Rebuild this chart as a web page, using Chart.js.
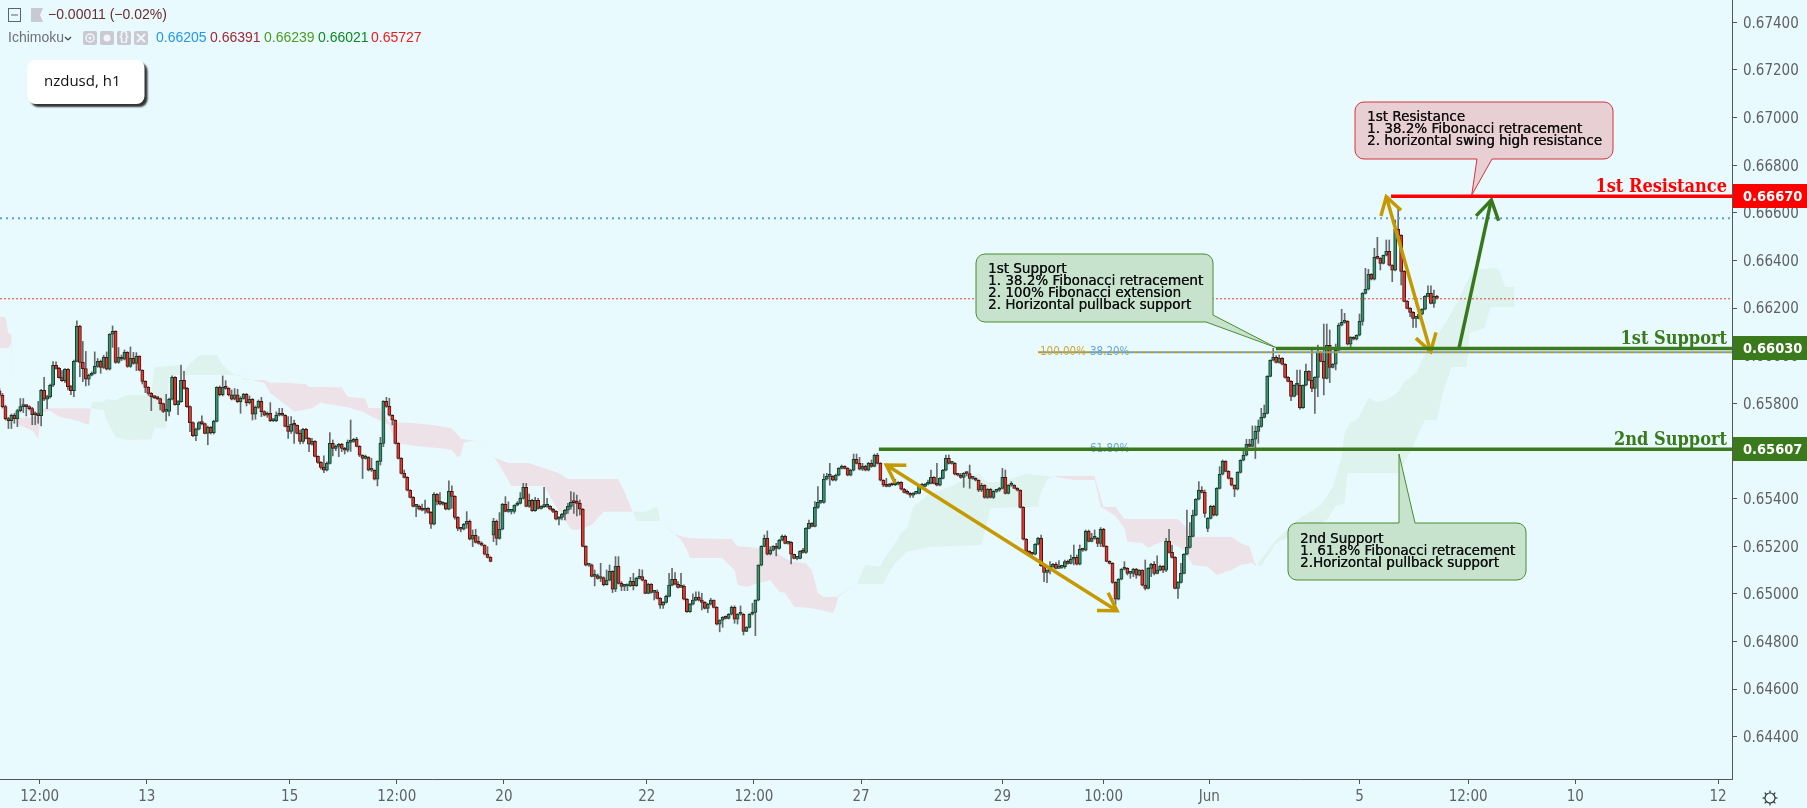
<!DOCTYPE html>
<html><head><meta charset="utf-8">
<style>html,body{margin:0;padding:0;background:#e9faff;overflow:hidden}canvas{display:block}</style>
<script src="https://cdn.jsdelivr.net/npm/chart.js@4"></script>
</head><body><canvas id="c" width="1807" height="808"></canvas>
<script>
// prices in 1e-5 units (hourly NZDUSD candles)
const opens=[65852,65834,65786,65736,65727,65750,65736,65769,65786,65790,
65786,65778,65752,65757,65748,65855,65817,65828,65876,65960,
65947,65908,65895,65943,65870,65853,65976,66123,65972,65946,
65901,65918,65926,65955,65976,65951,65993,65943,66090,66102,
65972,65993,65985,66014,65955,65989,65968,65997,65939,65892,
65867,65842,65828,65824,65820,65799,65766,65766,65817,65909,
65794,65807,65897,65863,65786,65719,65664,65691,65719,65715,
65673,65699,65677,65724,65867,65836,65867,65863,65836,65817,
65836,65807,65821,65838,65803,65817,65754,65783,65808,65765,
65750,65758,65727,65727,65750,65758,65750,65703,65682,65712,
65708,65674,65640,65691,65653,65628,65640,65577,65552,65531,
65519,65548,65632,65611,65619,65628,65611,65603,65636,65640,
65649,65619,65582,65569,65573,65519,65519,65481,65556,65632,
65808,65787,65750,65729,65632,65569,65506,65489,65435,65405,
65367,65367,65355,65351,65359,65342,65292,65418,65388,65376,
65380,65355,65430,65409,65321,65275,65271,65292,65304,65229,
65246,65216,65212,65204,65166,65153,65246,65304,65232,65271,
65376,65346,65346,65346,65372,65380,65401,65447,65367,65393,
65349,65393,65359,65366,65367,65367,65355,65346,65313,65321,
65334,65351,65367,65384,65383,65380,65355,65199,65120,65122,
65073,65076,65064,65068,65038,65057,65094,65019,65115,65044,
65031,65033,65033,65052,65034,65065,65072,65057,65002,65040,
65006,65008,64981,64952,64964,64989,65036,65061,65040,65027,
65031,64977,64925,64956,64973,64985,64973,64964,64939,64956,
64973,64943,64872,64889,64901,64897,64914,64943,64893,64914,
64914,64842,64859,64914,64922,64973,65120,65199,65233,65166,
65183,65199,65190,65225,65241,65212,65216,65166,65149,65149,
65178,65174,65275,65296,65283,65363,65384,65384,65481,65493,
65493,65477,65498,65527,65535,65527,65498,65519,65565,65548,
65523,65535,65519,65548,65535,65582,65548,65477,65456,65451,
65460,65458,65460,65468,65439,65426,65422,65414,65422,65422,
65451,65451,65460,65464,65489,65464,65456,65485,65519,65569,
65548,65548,65502,65498,65489,65506,65505,65485,65485,65477,
65435,65456,65405,65439,65405,65430,65435,65443,65489,65422,
65456,65456,65443,65435,65363,65229,65178,65170,65166,65208,
65233,65118,65090,65099,65115,65124,65107,65111,65114,65135,
65128,65145,65153,65124,65187,65183,65262,65220,65233,65233,
65212,65271,65199,65136,65128,65048,64977,65061,65103,65107,
65086,65086,65103,65078,65099,65036,65023,65107,65124,65086,
65099,65115,65099,65220,65174,65153,65023,65048,65086,65166,
65195,65241,65330,65397,65435,65426,65275,65317,65367,65330,
65443,65502,65556,65514,65485,65456,65439,65510,65561,65582,
65628,65619,65649,65682,65703,65741,65758,65913,65981,65993,
65972,65989,65964,65909,65892,65829,65876,65876,65782,65876,
65934,65897,65863,65909,66014,65976,65905,66044,65951,65964,
66023,66128,66140,66144,66048,66077,66069,66086,66144,66262,
66279,66342,66321,66413,66409,66388,66422,66438,66380,66359,
66531,66506,66354,66228,66199,66182,66157,66157,66174,66195,
66249,66262,66220,66249];
const closes=[65834,65786,65736,65727,65750,65736,65769,65786,65790,65786,
65778,65752,65757,65748,65855,65817,65828,65876,65960,65947,
65908,65895,65943,65870,65853,65976,66123,65972,65946,65901,
65918,65926,65955,65976,65951,65993,65943,66090,66102,65972,
65993,65985,66014,65955,65989,65968,65997,65939,65892,65867,
65842,65828,65824,65820,65799,65766,65766,65817,65909,65794,
65807,65897,65863,65786,65719,65664,65691,65719,65715,65673,
65699,65677,65724,65867,65836,65867,65863,65836,65817,65836,
65807,65821,65838,65803,65817,65754,65783,65808,65765,65750,
65758,65727,65727,65750,65758,65750,65703,65682,65712,65708,
65674,65640,65691,65653,65628,65640,65577,65552,65531,65519,
65548,65632,65611,65619,65628,65611,65603,65636,65640,65649,
65619,65582,65569,65573,65519,65519,65481,65556,65632,65808,
65787,65750,65729,65632,65569,65506,65489,65435,65405,65367,
65367,65355,65351,65359,65342,65292,65418,65388,65376,65380,
65355,65430,65409,65321,65275,65271,65292,65304,65229,65246,
65216,65212,65204,65166,65153,65136,65304,65232,65271,65376,
65346,65346,65346,65372,65380,65401,65447,65367,65393,65349,
65393,65359,65366,65367,65367,65355,65346,65313,65321,65334,
65351,65367,65384,65383,65380,65355,65199,65120,65122,65073,
65076,65064,65068,65038,65057,65094,65019,65115,65044,65031,
65033,65033,65052,65034,65065,65072,65057,65002,65040,65006,
65008,64981,64952,64964,64989,65036,65061,65040,65027,65031,
64977,64925,64956,64973,64985,64973,64964,64939,64956,64973,
64943,64872,64889,64901,64897,64914,64943,64893,64914,64914,
64842,64859,64914,64922,64973,65120,65199,65233,65166,65183,
65199,65190,65225,65241,65212,65216,65166,65149,65149,65178,
65174,65275,65296,65283,65363,65384,65384,65481,65493,65493,
65477,65498,65527,65535,65527,65498,65519,65565,65548,65523,
65535,65519,65548,65535,65582,65548,65477,65456,65451,65460,
65458,65460,65468,65439,65426,65422,65414,65422,65422,65451,
65451,65460,65464,65489,65464,65456,65485,65519,65569,65548,
65548,65502,65498,65489,65506,65505,65485,65485,65477,65435,
65456,65405,65439,65405,65430,65435,65443,65489,65422,65456,
65456,65443,65435,65363,65229,65178,65170,65166,65208,65233,
65118,65090,65099,65115,65124,65107,65111,65114,65135,65128,
65145,65153,65124,65187,65183,65262,65220,65233,65233,65212,
65271,65199,65136,65128,65048,64977,65061,65103,65107,65086,
65086,65103,65078,65099,65036,65023,65107,65124,65086,65099,
65115,65099,65220,65174,65153,65023,65048,65086,65166,65195,
65241,65330,65397,65435,65426,65338,65317,65367,65330,65443,
65502,65556,65514,65485,65456,65439,65510,65561,65582,65628,
65619,65649,65682,65703,65741,65758,65913,65981,65993,65972,
65989,65964,65909,65892,65829,65876,65876,65782,65876,65934,
65897,65863,65909,66014,65976,65905,66044,65951,65964,66023,
66128,66140,66144,66048,66077,66069,66086,66144,66262,66279,
66342,66321,66413,66409,66388,66422,66438,66380,66359,66531,
66506,66354,66228,66199,66182,66157,66157,66174,66195,66249,
66262,66220,66249,66241];
const highs=[65862,65842,65792,65741,65755,65758,65775,65820,65820,65794,
65790,65783,65764,65808,65859,65909,65834,65881,65975,65974,
65951,65937,65946,65946,65876,65982,66146,66128,66060,66018,
65923,65932,66016,65988,65982,66002,66016,66093,66125,66105,
66034,66003,66024,66017,66037,66014,66013,66000,65941,65895,
65870,65845,65831,65827,65822,65801,65838,65822,65915,65912,
65811,65961,65934,65867,65789,65722,65696,65723,65747,65717,
65705,65703,65729,65870,65873,65915,65895,65866,65856,65862,
65859,65828,65842,65842,65831,65820,65789,65814,65825,65769,
65764,65803,65733,65764,65779,65779,65752,65744,65744,65730,
65710,65688,65695,65695,65656,65653,65643,65579,65555,65579,
65554,65677,65646,65625,65632,65632,65615,65646,65730,65653,
65657,65622,65584,65583,65576,65569,65521,65559,65657,65811,
65825,65821,65752,65731,65635,65572,65520,65492,65437,65408,
65373,65373,65377,65394,65362,65345,65425,65421,65425,65386,
65383,65474,65453,65412,65324,65279,65296,65345,65310,65268,
65271,65240,65218,65206,65198,65156,65317,65310,65341,65380,
65408,65386,65355,65374,65387,65425,65464,65464,65419,65397,
65405,65401,65369,65447,65401,65370,65359,65349,65324,65338,
65355,65380,65429,65425,65415,65394,65358,65202,65125,65125,
65100,65083,65128,65071,65100,65121,65097,65156,65156,65051,
65037,65037,65069,65086,65069,65103,65100,65059,65044,65043,
65012,65016,64984,64967,64994,65086,65107,65089,65051,65086,
65038,64980,64960,65000,65008,65008,65002,64967,64960,64981,
64974,64946,64891,64904,64907,64917,64949,64949,64917,64949,
64917,64862,64917,64960,64975,65122,65202,65247,65264,65198,
65202,65212,65229,65247,65247,65219,65219,65167,65153,65181,
65191,65278,65310,65299,65387,65450,65387,65503,65506,65548,
65496,65503,65530,65541,65538,65530,65523,65587,65587,65573,
65548,65540,65552,65562,65587,65590,65551,65479,65485,65464,
65464,65481,65471,65471,65443,65436,65425,65425,65425,65454,
65464,65464,65478,65520,65492,65548,65488,65523,65583,65583,
65551,65551,65506,65506,65509,65512,65541,65492,65488,65479,
65464,65458,65442,65442,65433,65439,65447,65527,65520,65458,
65471,65458,65446,65437,65366,65232,65181,65174,65211,65237,
65247,65121,65101,65135,65128,65131,65139,65118,65142,65142,
65163,65205,65163,65205,65191,65268,65268,65254,65268,65237,
65278,65275,65202,65139,65131,65051,65064,65106,65135,65110,
65089,65107,65107,65101,65101,65142,65110,65128,65135,65159,
65121,65118,65233,65271,65205,65156,65051,65128,65169,65352,
65299,65352,65400,65471,65450,65436,65320,65372,65372,65446,
65534,65562,65559,65517,65488,65458,65513,65563,65604,65649,
65649,65705,65705,65730,65779,65793,65916,65983,66031,66000,
66003,65992,65967,65912,65895,65878,65940,65940,65878,65965,
65937,66024,65912,66045,66017,66133,66133,66108,65967,66049,
66136,66195,66178,66147,66080,66080,66088,66175,66265,66367,
66363,66345,66451,66497,66412,66423,66486,66486,66382,66570,
66626,66508,66357,66231,66202,66185,66160,66177,66198,66252,
66293,66293,66276,66254];
const lows=[65825,65780,65730,65694,65694,65716,65702,65764,65761,65747,
65772,65710,65710,65716,65705,65811,65778,65822,65870,65943,
65906,65892,65887,65856,65836,65828,65974,65912,65891,65873,
65876,65915,65923,65951,65926,65946,65940,65940,66035,65968,
65968,65979,65982,65951,65951,65964,65937,65936,65881,65845,
65834,65769,65820,65815,65772,65761,65726,65747,65814,65792,
65752,65804,65859,65783,65681,65660,65643,65688,65709,65671,
65626,65671,65671,65722,65831,65831,65859,65831,65814,65814,
65803,65758,65817,65789,65797,65730,65733,65779,65744,65747,
65741,65723,65723,65723,65747,65747,65701,65652,65674,65632,
65671,65629,65632,65650,65597,65624,65575,65548,65523,65509,
65516,65545,65579,65601,65576,65597,65587,65596,65598,65636,
65617,65576,65484,65565,65516,65514,65478,65453,65541,65618,
65783,65747,65709,65629,65566,65503,65486,65432,65402,65365,
65324,65352,65348,65338,65339,65275,65289,65373,65373,65372,
65352,65352,65359,65313,65265,65260,65268,65275,65226,65198,
65213,65208,65201,65163,65150,65134,65219,65205,65229,65268,
65344,65342,65335,65338,65369,65377,65398,65365,65363,65346,
65346,65355,65355,65362,65363,65352,65341,65310,65289,65310,
65310,65338,65355,65338,65327,65331,65197,65117,65115,65071,
65033,65061,65051,65033,65036,65054,65005,65009,65041,65013,
65013,65013,65030,65016,65031,65062,65054,65000,65000,65002,
64974,64978,64938,64938,64961,64987,65033,65037,65024,65027,
64974,64922,64922,64953,64970,64970,64932,64936,64921,64953,
64940,64869,64840,64859,64894,64894,64911,64876,64873,64910,
64827,64841,64856,64911,64824,64970,65117,65197,65163,65163,
65180,65159,65187,65222,65209,65208,65125,65146,65142,65146,
65171,65170,65272,65281,65281,65359,65380,65381,65478,65456,
65474,65474,65495,65524,65524,65495,65495,65516,65545,65520,
65517,65516,65516,65531,65533,65545,65474,65450,65449,65449,
65454,65454,65457,65436,65423,65418,65405,65405,65418,65419,
65447,65449,65457,65461,65461,65453,65453,65482,65516,65545,
65544,65499,65495,65485,65447,65495,65443,65481,65474,65429,
65429,65401,65400,65402,65400,65426,65430,65440,65419,65419,
65451,65443,65432,65360,65226,65176,65156,65162,65163,65205,
65115,65051,65047,65083,65111,65104,65107,65107,65107,65124,
65125,65121,65121,65121,65178,65180,65218,65218,65229,65198,
65198,65197,65134,65125,65044,64953,64974,65058,65100,65079,
65065,65072,65065,65075,65033,65016,65020,65072,65079,65083,
65096,65089,65093,65171,65150,65020,64981,65045,65083,65163,
65192,65239,65327,65394,65423,65321,65261,65314,65327,65327,
65440,65499,65512,65482,65453,65408,65436,65507,65558,65579,
65617,65617,65568,65632,65699,65738,65755,65911,65978,65969,
65969,65961,65906,65890,65811,65827,65835,65775,65779,65873,
65894,65849,65758,65828,65974,65835,65902,65887,65948,65940,
66020,66125,66136,66045,66027,66066,66066,66083,66128,66259,
66276,66318,66318,66406,66360,66385,66419,66377,66311,66356,
66503,66297,66226,66196,66164,66119,66119,66154,66171,66192,
66247,66217,66203,66238];
// Ichimoku cloud edges: bar number and price (1e-5) of each bend
const spanABars=[0,3,4,5,6,8,11,13,14,15,17,20,24,27,30,31,35,36,39,43,51,52,60,62,66,68,73,75,78,81,82,89,91,94,97,99,102,105,108,110,117,122,125,129,131,133,142,148,152,154,155,156,158,163,165,169,172,183,187,192,194,199,203,213,217,221,222,223,229,231,232,243,244,247,248,251,259,262,264,267,272,276,280,281,282,288,291,296,297,301,303,305,307,312,319,329,332,336,345,355,361,368,370,375,378,379,384,386,388,392,398,401,406,409,414,417,421,422,429,436,444,448,451,452,454,456,458,460,463,466,470,472,476,478,485,489,495,502,504,506,509];
const spanAVals=[66032,66032,66053,65772,65709,65702,65685,65653,65759,65765,65769,65744,65733,65723,65709,65807,65807,65818,65814,65835,65835,65951,65961,65940,65990,66003,66003,65961,65926,65915,65906,65885,65842,65814,65786,65765,65772,65779,65803,65797,65783,65765,65744,65723,65709,65632,65618,65611,65604,65572,65583,65633,65642,65640,65596,65520,65453,65453,65365,65272,65268,65289,65344,65344,65344,65365,65306,65297,65226,65184,65150,65150,65134,65100,65037,65029,65058,65008,65003,64945,64940,64932,64919,64945,64995,65041,65121,65113,65142,65213,65255,65276,65365,65415,65449,65507,65470,65470,65503,65491,65478,65478,65365,65327,65276,65218,65213,65192,65205,65226,65184,65121,65113,65079,65100,65121,65129,65117,65226,65310,65373,65449,65575,65675,65722,65730,65772,65822,65806,65814,65848,65890,65927,65982,66121,66205,66360,66368,66360,66289,66289];
const spanBBars=[0,2,3,4,5,6,13,14,30,35,36,39,43,51,52,56,57,77,81,82,89,91,95,103,104,115,117,123,124,128,131,140,146,152,155,158,163,165,166,171,178,183,188,191,208,210,213,214,222,223,226,229,232,246,248,259,266,271,273,275,277,282,288,297,299,301,305,313,330,333,349,350,352,355,368,370,371,375,378,396,399,402,414,417,420,422,424,429,446,449,452,453,470,474,477,479,483,485,488,493,494,499,501,509];
const spanBVals=[66164,66164,66095,66091,65772,65738,65744,65779,65779,65772,65730,65660,65646,65649,65695,65695,65919,65919,65919,65898,65898,65887,65887,65881,65870,65867,65828,65821,65780,65780,65723,65716,65709,65695,65653,65646,65638,65596,65575,65549,65549,65528,65507,65482,65482,65428,65339,65306,65306,65297,65255,65243,65234,65230,65201,65188,65134,65129,65100,65003,64987,64987,65041,65041,65092,65129,65176,65197,65205,65360,65365,65428,65478,65495,65495,65407,65365,65365,65314,65314,65276,65239,65239,65213,65201,65125,65117,65213,65310,65369,65381,65507,65507,65591,65675,65730,65730,65843,65953,65953,66095,66116,66205,66205];
const yTickValues=[0.644,0.646,0.648,0.65,0.652,0.654,0.656,0.658,0.66,0.662,0.664,0.666,0.668,0.67,0.672,0.674];
const xTickBars=[13.5,49.5,97.5,133.5,169.5,217.5,253.5,289.5,337,371,406.5,457,493.5,529.5,577.5];
const xTickLabels=['12:00','13','15','12:00','20','22','12:00','27','29','10:00','Jun','5','12:00','10','12'];
// levels and drawings, in chart units (bar number, price)
const resistance1=0.6667, support1=0.6603, support2=0.65607, lastPrice=0.66239, dottedHigh=0.66577, fibLevel=0.66014, fib618=0.65607;
const arrowA=[[298,0.65541],[375.5,0.64929]];
const arrowB=[[466,0.66668],[480.9,0.66017]];
const arrowUp=[[490.4,0.6603],[501.3,0.66654]];

const P=v=>v/1e5;
const GOLD='#c49a00',GREEN='#3a7a1c',RED='#ff0000';
const wicks=closes.map((_,i)=>({x:i,y:[P(lows[i]),P(highs[i])]}));
const bodies=closes.map((c,i)=>({x:i,y:[P(opens[i]),P(c)]}));
const isUp=ctx=>closes[ctx.dataIndex]>=opens[ctx.dataIndex];

function line(ctx,x1,y1,x2,y2,col,w,dash,off){ctx.save();ctx.strokeStyle=col;ctx.lineWidth=w;ctx.setLineDash(dash||[]);ctx.lineDashOffset=off||0;ctx.beginPath();ctx.moveTo(x1,y1);ctx.lineTo(x2,y2);ctx.stroke();ctx.restore();}
function head(ctx,x,y,ang,len,col,w){ctx.save();ctx.strokeStyle=col;ctx.lineWidth=w;ctx.lineJoin='miter';ctx.beginPath();
 ctx.moveTo(x+len*Math.cos(ang+0.55),y+len*Math.sin(ang+0.55));ctx.lineTo(x,y);ctx.lineTo(x+len*Math.cos(ang-0.55),y+len*Math.sin(ang-0.55));ctx.stroke();ctx.restore();}
function poly(ctx,pts,fill,stroke){ctx.save();ctx.beginPath();const n=pts.length;
 const mid=(a,b)=>[(a[0]+b[0])/2,(a[1]+b[1])/2];const s=mid(pts[n-1],pts[0]);ctx.moveTo(s[0],s[1]);
 for(let i=0;i<n;i++){const p=pts[i],q=pts[(i+1)%n];ctx.arcTo(p[0],p[1],q[0],q[1],p[2]||0);}
 ctx.closePath();ctx.fillStyle=fill;ctx.fill();ctx.strokeStyle=stroke;ctx.lineWidth=1;ctx.stroke();ctx.restore();}
function textLines(ctx,lines,x,y,dy){ctx.save();ctx.fillStyle='#111';ctx.font='13.5px "DejaVu Sans"';ctx.textBaseline='middle';ctx.textAlign='left';
 lines.forEach((t,i)=>{ctx.fillText(t,x,y+i*dy);ctx.fillText(t,x+0.3,y+i*dy);});ctx.restore();}
function label(ctx,t,x,y,col,font,al){ctx.save();ctx.fillStyle=col;ctx.font=font;ctx.textAlign=al||'left';ctx.textBaseline='middle';ctx.fillText(t,x,y);ctx.restore();}

const overlay={id:'overlay',afterDatasetsDraw(chart){
 const ctx=chart.ctx,X=chart.scales.x,Y=chart.scales.y,r=X.right;
 const px=v=>X.getPixelForValue(v),py=v=>Y.getPixelForValue(v);
 // thin level lines
 line(ctx,0,py(dottedHigh),r,py(dottedHigh),'#5b9fdc',2,[2,4]);
 line(ctx,0,py(lastPrice),r,py(lastPrice),'#e8402a',1,[2,2]);
 line(ctx,px(349),py(fibLevel),r,py(fibLevel),GOLD,2,[4,4]);
 line(ctx,px(349),py(fibLevel),r,py(fibLevel),'#5b9fdc',2,[4,4],4);
 label(ctx,'100.00%',1040,py(fibLevel),'#d2a733','11.5px "DejaVu Sans Condensed"');
 label(ctx,'38.20%',1090,py(fibLevel),'#6aa6dc','11.5px "DejaVu Sans Condensed"');
 label(ctx,'61.80%',1090,py(fib618),'#6aa6dc','11.5px "DejaVu Sans Condensed"');
 // arrows
 [arrowA,arrowB].forEach(a=>{const x1=px(a[0][0]),y1=py(a[0][1]),x2=px(a[1][0]),y2=py(a[1][1]),t=Math.atan2(y2-y1,x2-x1);
  line(ctx,x1,y1,x2,y2,GOLD,3.5);head(ctx,x1,y1,t,20,GOLD,3.5);head(ctx,x2,y2,t+Math.PI,20,GOLD,3.5);});
 {const a=arrowUp,x1=px(a[0][0]),y1=py(a[0][1]),x2=px(a[1][0]),y2=py(a[1][1]),t=Math.atan2(y2-y1,x2-x1);
  line(ctx,x1,y1,x2,y2,'#37781c',3.5);head(ctx,x2,y2,t+Math.PI,22,'#37781c',3.5);}
 // main levels
 line(ctx,px(467.6),py(resistance1),r,py(resistance1),RED,3.5);
 line(ctx,px(428.9),py(support1),r,py(support1),GREEN,3.5);
 line(ctx,px(295.5),py(support2),r,py(support2),GREEN,3.5);
 const sf='bold 18px "DejaVu Serif Condensed"';
 label(ctx,'1st Resistance',1727,187,RED,sf,'right');
 label(ctx,'1st Support',1727,339,GREEN,sf,'right');
 label(ctx,'2nd Support',1727,440,GREEN,sf,'right');
 // call-outs
 poly(ctx,[[1355,102,9],[1613,102,9],[1613,159,9],[1492,159],[px(494.7),py(resistance1)-1],[1477,159],[1355,159,9]],'#e8cfd3','#d8303a');
 textLines(ctx,['1st Resistance','1. 38.2% Fibonacci retracement','2. horizontal swing high resistance'],1367,117,12.2);
 poly(ctx,[[976,254,9],[1213,254,9],[1213,315],[px(428.9),py(support1)-1],[1206,322],[976,322,9]],'#c7e3ce','#4a8c2c');
 textLines(ctx,['1st Support','1. 38.2% Fibonacci retracement','2. 100% Fibonacci extension','2. Horizontal pullback support'],988,269,12.2);
 poly(ctx,[[1288,523,9],[1399,523],[1399,454],[1415,523],[1526,523,9],[1526,580,9],[1288,580,9]],'#c7e3ce','#4a8c2c');
 textLines(ctx,['2nd Support','1. 61.8% Fibonacci retracement','2.Horizontal pullback support'],1300,539,12.1);
 // title box
 ctx.save();ctx.shadowColor='#333';ctx.shadowOffsetX=3;ctx.shadowOffsetY=3;ctx.shadowBlur=2;ctx.fillStyle='#fff';ctx.beginPath();ctx.roundRect(27.5,60,117,44,8);ctx.fill();ctx.restore();
 label(ctx,'nzdusd, h1',44,82,'#111','15px "Open Sans"');
 // header
 ctx.save();ctx.strokeStyle='#5a6470';ctx.lineWidth=1;ctx.strokeRect(8.5,8.5,12,13);line(ctx,11,15,18,15,'#5a6470',1);
 ctx.fillStyle='#c8c9d2';ctx.beginPath();ctx.moveTo(31,8);ctx.lineTo(43,8);ctx.lineTo(40,15);ctx.lineTo(43,22);ctx.lineTo(31,22);ctx.closePath();ctx.fill();ctx.restore();
 const hf='14px "Liberation Sans"';
 label(ctx,'\u22120.00011 (\u22120.02%)',48,15,'#6b2b2b',hf);
 label(ctx,'Ichimoku',8,38,'#6e7078',hf);
 line(ctx,65,37,68,40,'#444',1.2);line(ctx,68,40,71,37,'#444',1.2);
 [83,100,117,134].forEach(x=>{ctx.save();ctx.fillStyle='#c8c9d2';ctx.beginPath();ctx.roundRect(x,31,14,14,2);ctx.fill();ctx.fillStyle='#f2f6fa';ctx.strokeStyle='#f2f6fa';
  if(x<117){ctx.beginPath();ctx.arc(x+7,38,x==83?4:3.5,0,7);ctx.lineWidth=1.5;x==83?ctx.stroke():ctx.fill();if(x==83){ctx.beginPath();ctx.arc(x+7,38,1.5,0,7);ctx.fill();}}
  else if(x==117){ctx.font='bold 12px "Liberation Sans"';ctx.textAlign='center';ctx.textBaseline='middle';ctx.fillText('{}',x+7,37);}
  else{ctx.lineWidth=2;ctx.beginPath();ctx.moveTo(x+3,34);ctx.lineTo(x+11,42);ctx.moveTo(x+11,34);ctx.lineTo(x+3,42);ctx.stroke();}
  ctx.restore();});
 [['0.66205',156,'#2196f3'],['0.66391',210,'#a02a35'],['0.66239',264,'#4c9c20'],['0.66021',318,'#0a8a1f'],['0.65727',371,'#f01a1a']].forEach(v=>label(ctx,v[0],v[1],38,v[2],hf));
 // price boxes on the axis
 const tf='bold 14.5px "DejaVu Sans Condensed"';
 [[resistance1,'0.66670',RED,196],[support1,'0.66030',GREEN,348],[support2,'0.65607',GREEN,449]].forEach(b=>{
  ctx.fillStyle=b[2];ctx.fillRect(r+1,b[3]-12,75,24);label(ctx,b[1],r+11,b[3]+1,'#fff',tf);});
 // settings wheel
 ctx.save();ctx.strokeStyle='#333';ctx.lineWidth=1.2;ctx.beginPath();ctx.arc(1770,798,5,0,7);ctx.stroke();
 for(let k=0;k<8;k++){const a=k*Math.PI/4;ctx.beginPath();ctx.moveTo(1770+5*Math.cos(a),798+5*Math.sin(a));ctx.lineTo(1770+7.5*Math.cos(a),798+7.5*Math.sin(a));ctx.stroke();}
 ctx.restore();
}};
const axisFont={family:'"DejaVu Sans Condensed"',size:15};
const noPad=s=>{s.paddingTop=s.paddingBottom=s.paddingLeft=s.paddingRight=0;};
new Chart(document.getElementById('c'),{
 data:{datasets:[
  {type:'line',label:'Span A',data:spanABars.map((b,i)=>({x:b,y:P(spanAVals[i])})),borderWidth:0,pointRadius:0,tension:0,order:10,
   fill:{target:1,above:'#def3ee',below:'#eee2e9'}},
  {type:'line',label:'Span B',data:spanBBars.map((b,i)=>({x:b,y:P(spanBVals[i])})),borderWidth:0,pointRadius:0,tension:0,order:11,fill:false},
  {type:'bar',label:'wick',data:wicks,barThickness:1,backgroundColor:'#666a6a',borderWidth:0,grouped:false,order:5},
  {type:'bar',label:'body',data:bodies,barThickness:3.2,grouped:false,minBarLength:2,borderWidth:1,borderSkipped:false,order:4,
   backgroundColor:c=>isUp(c)?'#3f8f6c':'#e0392b',borderColor:c=>isUp(c)?'#123f2e':'#4d1512'}
 ]},
 options:{responsive:false,animation:false,devicePixelRatio:1,layout:{padding:0},
  plugins:{legend:{display:false},tooltip:{enabled:false}},
  scales:{
   x:{type:'linear',min:0.168,max:582.168,offset:false,
    grid:{offset:false,drawOnChartArea:false,tickLength:5,color:'#555',tickColor:'#555'},border:{color:'#555',width:1},
    afterBuildTicks:a=>{a.ticks=xTickBars.map(v=>({value:v}));},
    afterFit:s=>{s.height=29;noPad(s);},
    ticks:{autoSkip:false,maxRotation:0,color:'#5f6163',font:axisFont,padding:4,callback:v=>xTickLabels[xTickBars.indexOf(v)]}},
   y:{type:'linear',position:'right',min:0.64222,max:0.67494,
    grid:{drawOnChartArea:false,tickLength:5,color:'#555',tickColor:'#555'},border:{color:'#555',width:1},
    afterBuildTicks:a=>{a.ticks=yTickValues.map(v=>({value:v}));},
    afterFit:s=>{s.width=75;noPad(s);},
    ticks:{color:'#5f6163',font:axisFont,padding:6,labelOffset:1.5,callback:v=>v.toFixed(5)}}
  }},
 plugins:[overlay]
});
</script></body></html>
